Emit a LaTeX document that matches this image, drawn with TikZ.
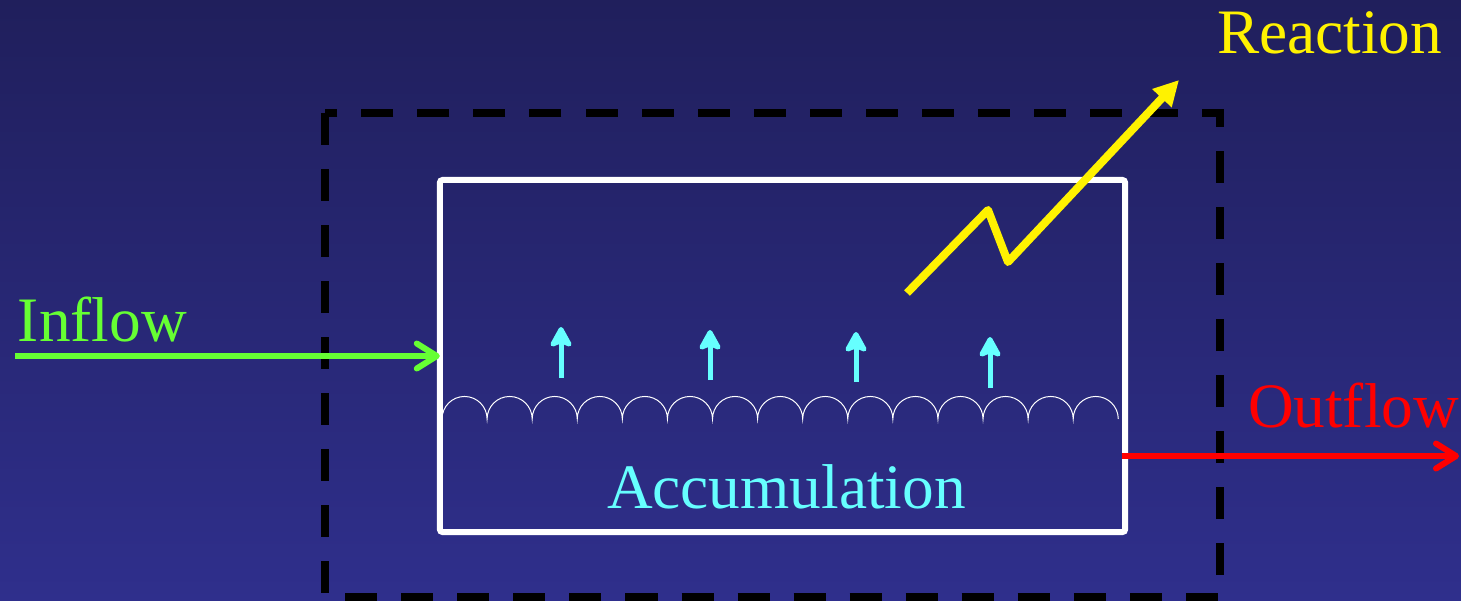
\documentclass[tikz,border=0pt]{standalone}
\usepackage{fontspec}
\setmainfont{Liberation Serif}
\usetikzlibrary{arrows.meta}
\definecolor{bgtop}{RGB}{32,31,92}
\definecolor{bgbot}{RGB}{47,47,140}
\definecolor{ingreen}{RGB}{102,255,51}
\definecolor{acccyan}{RGB}{102,255,255}
\begin{document}
\begin{tikzpicture}[x=0.01cm,y=-0.01cm,
  lbl/.style={anchor=base west,inner sep=0,outer sep=0,font=\fontsize{18}{20}\selectfont},
  flowarrow/.style={line width=0.06cm,-{Straight Barb[length=0.2cm,width=0.25cm,line cap=round,line join=round]}},
  uparrow/.style={acccyan,line width=0.05cm,-{Stealth[length=0.24cm,width=0.26cm,inset=0.05cm,round]}},
  boundary/.style={black,line width=0.08cm,dash pattern=on 0.32cm off 0.24cm},
  tank/.style={draw=white,line width=0.06cm,minimum width=6.85cm,minimum height=3.52cm,inner sep=0,outer sep=0,rounded corners=0.03cm}]
\shade[top color=bgtop,bottom color=bgbot] (0,0) rectangle (1461,600);
\useasboundingbox (0,0) rectangle (1461,600);
% control volume
\draw[boundary] (325,113) rectangle (1220,597);
% tank
\node[tank] (box) at (782.5,356) {};
% liquid surface
\draw[white,line width=0.01cm] (442,419)
  foreach \i in {1,...,15} { arc[start angle=180,end angle=0,radius=0.2253cm] };
% evaporation arrows
\coordinate (a1s) at (561,378); \coordinate (a1e) at (561,327);
\coordinate (a2s) at (710,380); \coordinate (a2e) at (710,330);
\coordinate (a3s) at (856,382); \coordinate (a3e) at (856,332);
\coordinate (a4s) at (990,388); \coordinate (a4e) at (990,337);
\draw[uparrow] (a1s) -- (a1e);
\draw[uparrow] (a2s) -- (a2e);
\draw[uparrow] (a3s) -- (a3e);
\draw[uparrow] (a4s) -- (a4e);
% reaction zigzag
\coordinate (r0) at (907,293);
\coordinate (r1) at (988,210);
\coordinate (r2) at (1008,262);
\coordinate (r3) at (1179,80);
\draw[yellow,line width=0.08cm,line join=round,-{Triangle[length=0.25cm,width=0.25cm]}] (r0) -- (r1) -- (r2) -- (r3);
% inflow
\coordinate (inS) at (15,356);
\draw[ingreen,flowarrow] (inS) -- (box.west);
% outflow
\coordinate (outS) at (1122,456);
\coordinate (outE) at (1459,456);
\draw[red,flowarrow] (outS) -- (outE);
% labels
\node[lbl,text=ingreen] (inflow) at (18,341) {Inflow};
\node[lbl,text=yellow] (reaction) at (1217,53) {Reaction};
\node[lbl,text=red] (outflow) at (1248,427) {Outflow};
\node[lbl,text=acccyan] (accum) at (607,508) {Accumulation};
\end{tikzpicture}
\end{document}
